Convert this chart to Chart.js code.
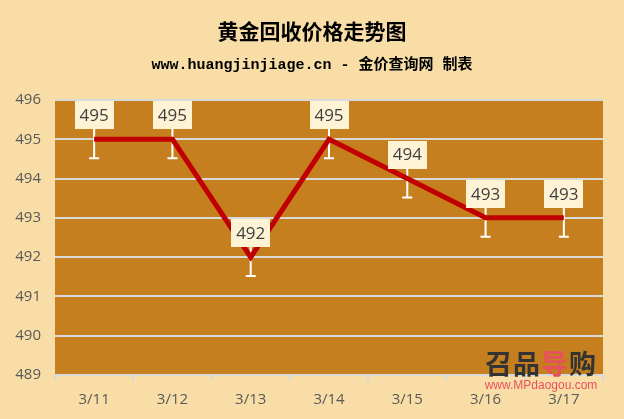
<!DOCTYPE html>
<html lang="zh">
<head>
<meta charset="UTF-8">
<title>黄金回收价格走势图</title>
<style>
    body { margin: 0; background: #F8DEA6; }
    .wrap { position: relative; width: 624px; height: 419px; }
    .title {
        position: absolute; left: 0; width: 624px; top: 15px; text-align: center;
        font-family: "Noto Sans CJK SC", sans-serif; font-weight: bold; font-size: 21px; color: #000;
    }
    .sub {
        position: absolute; left: 0; width: 624px; top: 52px; text-align: center;
        font-family: "Liberation Mono", "Noto Sans CJK SC", monospace; font-weight: bold; font-size: 15px; color: #000;
    }
    .mark { position: absolute; left: 478px; top: 348px; width: 126px; text-align: center; }
    .mark .logo { font-family: "Noto Sans CJK SC", sans-serif; font-weight: bold; font-size: 27px; color: #333; line-height: 30px; letter-spacing: 1px; }
    .mark .logo span { color: #E8505E; }
    .mark .url { font-family: Arial, "Liberation Sans", sans-serif; font-size: 12px; color: #E8505E; line-height: 14px; }
    canvas { position: absolute; left: 0; top: 0; }
</style>
</head>
<body>
<div class="wrap">
    <canvas id="chart" width="624" height="419"></canvas>
    <div class="title">黄金回收价格走势图</div>
    <div class="sub">www.huangjinjiage.cn - 金价查询网 制表</div>
    <div class="mark"><div class="logo">召品<span>导</span>购</div><div class="url">www.MPdaogou.com</div></div>
</div>
<script src="https://cdn.jsdelivr.net/npm/chart.js"></script>
<script>
    const dates = ['3/11', '3/12', '3/13', '3/14', '3/15', '3/16', '3/17'];
    const prices = [495, 495, 492, 495, 494, 493, 493];
    const errors = [0.48, 0.48, 0.48, 0.48, 0.48, 0.48, 0.48];

    // plot area background
    const plotBg = {
        id: 'plotBg',
        beforeDraw(chart) {
            const a = chart.chartArea, c = chart.ctx;
            c.save();
            c.fillStyle = '#C67F1F';
            c.fillRect(a.left, a.top, a.right - a.left, a.bottom - a.top);
            c.restore();
        }
    };

    // white error bars under the line
    const errorBars = {
        id: 'errorBars',
        beforeDatasetsDraw(chart) {
            const c = chart.ctx, y = chart.scales.y;
            const meta = chart.getDatasetMeta(0);
            c.save();
            c.strokeStyle = '#FFFFFF';
            c.lineWidth = 2;
            meta.data.forEach((p, i) => {
                const yTop = y.getPixelForValue(prices[i] + errors[i]);
                const yBot = y.getPixelForValue(prices[i] - errors[i]);
                c.beginPath();
                c.moveTo(p.x, yTop); c.lineTo(p.x, yBot);
                c.moveTo(p.x - 5, yTop); c.lineTo(p.x + 5, yTop);
                c.moveTo(p.x - 5, yBot); c.lineTo(p.x + 5, yBot);
                c.stroke();
            });
            c.restore();
        }
    };

    // value labels in pale boxes above the points
    const valueLabels = {
        id: 'valueLabels',
        afterDatasetsDraw(chart) {
            const c = chart.ctx;
            const meta = chart.getDatasetMeta(0);
            c.save();
            c.font = '17px "Open Sans", "Liberation Sans", sans-serif';
            c.textAlign = 'center';
            c.textBaseline = 'middle';
            meta.data.forEach((p, i) => {
                const w = 39, h = 28;
                const bottom = p.y - 10;
                c.fillStyle = '#FFF3D6';
                c.fillRect(Math.round(p.x - w / 2), Math.round(bottom - h), w, h);
                c.fillStyle = '#404040';
                c.fillText(String(prices[i]), p.x, bottom - h / 2 + 1);
            });
            c.restore();
        }
    };

    new Chart(document.getElementById('chart'), {
        type: 'line',
        data: {
            labels: dates,
            datasets: [{
                data: prices,
                borderColor: '#C00000',
                borderWidth: 5,
                pointRadius: 0,
                tension: 0,
                fill: false
            }]
        },
        options: {
            responsive: false,
            animation: false,
            layout: { padding: { top: 100, right: 21, bottom: 0, left: 0 } },
            plugins: { legend: { display: false }, title: { display: false }, tooltip: { enabled: false } },
            scales: {
                x: {
                    offset: true,
                    grid: { drawOnChartArea: false, drawTicks: true, tickLength: 6, color: '#D9D9D9', offset: true, lineWidth: 2 },
                    border: { color: '#D9D9D9', width: 2 },
                    ticks: { color: '#595959', font: { size: 15, family: '"Open Sans", "Liberation Sans", sans-serif' }, padding: 10 }
                },
                y: {
                    min: 489,
                    max: 496,
                    ticks: { stepSize: 1, color: '#595959', font: { size: 15, family: '"Open Sans", "Liberation Sans", sans-serif' }, padding: 14 },
                    grid: { color: '#D9D9D9', lineWidth: 2, drawTicks: false },
                    border: { display: false },
                    afterFit(s) { s.width = 55; }
                }
            }
        },
        plugins: [plotBg, errorBars, valueLabels]
    });
</script>
</body>
</html>
